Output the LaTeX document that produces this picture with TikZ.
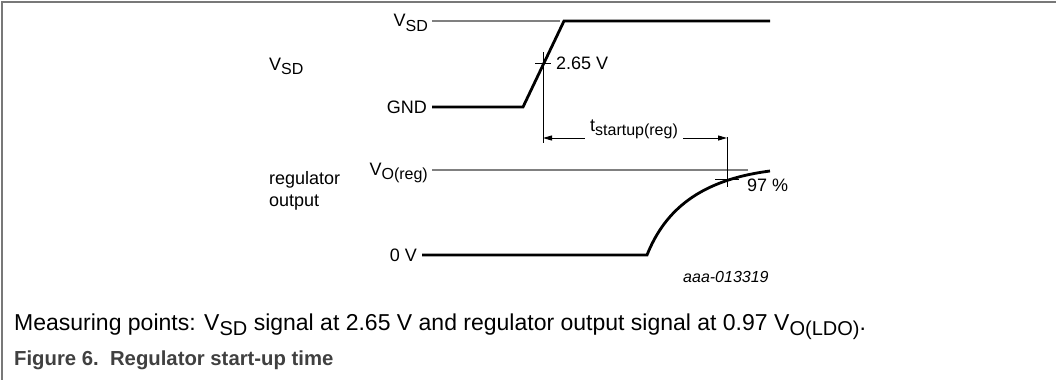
\documentclass[tikz,border=0pt]{standalone}
\usepackage{fontspec}
\setmainfont{Liberation Sans}
\usetikzlibrary{arrows.meta}
\definecolor{framegray}{RGB}{120,120,120}
\definecolor{refgray}{RGB}{128,128,128}
\definecolor{capgray}{RGB}{64,64,64}
\newcommand\sbs[1]{\raisebox{-4.5pt}{\fontsize{16}{16}\selectfont #1}}
\newcommand\sbc[1]{\raisebox{-5pt}{\fontsize{20}{20}\selectfont #1}}
\begin{document}
\begin{tikzpicture}[x=1pt,y=-1pt,
  lbl/.style={inner sep=0pt, font=\fontsize{18}{22}\selectfont},
  wave/.style={line width=2.8pt, line join=miter},
  refline/.style={line width=1.5pt, draw=refgray},
  thin/.style={line width=1pt},
  dimarrow/.style={line width=1pt, -{Triangle[length=9pt,width=5pt]}}
]
\useasboundingbox (0,0) rectangle (1056,380);
% frame
\draw[line width=1.5pt, framegray] (1056,2) -- (2,2) -- (2,380);

% labels
\node[lbl, anchor=base east] (lvsd) at (428,27) {V\sbs{SD}};
\node[lbl, anchor=base east] (lgnd) at (427,113) {GND};
\node[lbl, anchor=base east] (lvo) at (428,175) {V\sbs{O(reg)}};
\node[lbl, anchor=base east] (l0v) at (417,261) {0 V};
\node[lbl, anchor=base west] (lsig) at (269,70) {V\sbs{SD}};
\node[lbl, anchor=base west, align=left] (lreg) at (269,206) {regulator\\output};
\node[lbl, anchor=base west] (l265) at (556,69) {2.65 V};
\node[lbl, anchor=base west] (l97) at (747,191) {97 \%};
\node[lbl, anchor=base] (lt) at (634,131) {t\sbs{startup(reg)}};
\node[lbl, anchor=base west, font=\fontsize{16}{19}\selectfont\itshape] (lcode) at (683,282) {aaa-013319};
\node[lbl, anchor=base west, font=\fontsize{23}{26}\selectfont] (lcap) at (14,330) {Measuring points: V\sbc{SD} signal at 2.65 V and regulator output signal at 0.97 V\sbc{O(LDO)}.};
\node[lbl, anchor=base west, text=capgray, font=\fontsize{20.3}{24}\selectfont\bfseries] (lfig) at (14,365) {Figure 6.\ \ Regulator start-up time};

% coordinates
\coordinate (r1a) at (432,21);
\coordinate (r1b) at (560,21);
\coordinate (r2a) at (432,170);
\coordinate (r2b) at (748,170);
\coordinate (g0) at (432,107);
\coordinate (g1) at (523,107);
\coordinate (h0) at (564,21);
\coordinate (h1) at (770,21);
\coordinate (z0) at (422,255);
\coordinate (z1) at (647,255);
\coordinate (z2) at (770,171);
\coordinate (m1a) at (543,52);
\coordinate (m1b) at (543,143);
\coordinate (t1a) at (535,63);
\coordinate (t1b) at (551,63);
\coordinate (m2a) at (727,137);
\coordinate (m2b) at (727,187);
\coordinate (t2a) at (715,179);
\coordinate (t2b) at (739,179);
\coordinate (a1) at (543,138);
\coordinate (a2) at (727,138);

% reference lines
\draw[refline] (r1a) -- (r1b);
\draw[refline] (r2a) -- (r2b);

% waveforms
\draw[wave] (g0) -- (g1) -- (h0) -- (h1);
\draw[wave] (z0) -- (z1) .. controls (665,210) and (700,180) .. (z2);

% markers
\draw[thin] (m1a) -- (m1b);
\draw[thin] (t1a) -- (t1b);
\draw[thin] (m2a) -- (m2b);
\draw[thin] (t2a) -- (t2b);

% dimension arrows
\draw[dimarrow] (lt.west |- a1) ++(-5,0) -- (a1);
\draw[dimarrow] (lt.east |- a2) ++(5,0) -- (a2);
\end{tikzpicture}
\end{document}
